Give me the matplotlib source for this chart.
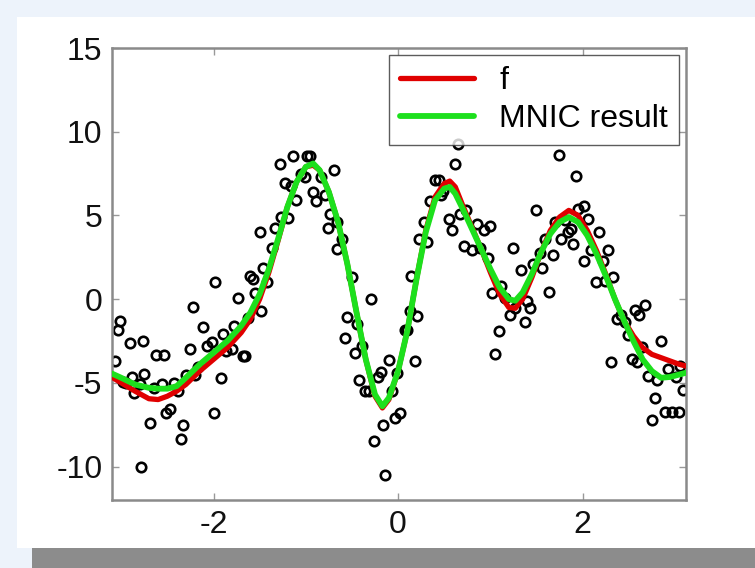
import matplotlib
matplotlib.use("Agg")
import matplotlib.pyplot as plt
from matplotlib.patches import Rectangle

plt.rcParams['font.family'] = ['Liberation Sans', 'DejaVu Sans']

# Noisy samples (x, y)
pts_x = [-3.07, -3.04, -3.01, -2.91, -2.76, -2.98, -2.95, -2.86, -2.88, -2.75, -2.80, -2.64,
         -2.69, -2.79, -2.62, -2.54, -2.56, -2.51, -2.47, -2.43, -2.39, -2.33, -2.35, -2.30,
         -2.26, -2.22, -2.20, -2.17, -2.11, -2.07, -2.02, -1.98, -2.00, -1.92, -1.90, -1.86,
         -1.80, -1.73, -1.78, -1.68, -1.66, -1.63, -1.60, -1.57, -1.55, -1.48, -1.50, -1.46,
         -1.42, -1.37, -1.33, -1.27, -1.19, -1.23, -1.16, -1.28, -1.14, -1.11, -1.05, -0.99,
         -0.95, -1.01, -0.92, -0.89, -0.84, -0.69, -0.79, -0.74, -0.66, -0.76, -0.61, -0.66,
         -0.50, -0.55, -0.45, -0.57, -0.47, -0.39, -0.42, -0.29, -0.36, -0.31, -0.26, -0.16,
         -0.22, -0.19, -0.14, -0.10, -0.07, -0.03, 0.02, -0.01, 0.07, 0.10, 0.13, 0.18,
         0.14, 0.21, 0.23, 0.28, 0.31, 0.35, 0.40, 0.44, 0.47, 0.49, 0.55, 0.58,
         0.62, 0.65, 0.67, 0.74, 0.71, 0.80, 0.86, 0.89, 0.93, 0.97, 1.00, 1.02,
         1.09, 1.05, 1.12, 1.16, 1.21, 1.25, 1.27, 1.33, 1.37, 1.40, 1.43, 1.46,
         1.49, 1.54, 1.56, 1.59, 1.64, 1.68, 1.70, 1.74, 1.77, 1.81, 1.84, 1.87,
         1.90, 1.93, 1.95, 2.01, 2.02, 2.06, 2.09, 2.15, 2.18, 2.22, 2.24, 2.28,
         2.31, 2.33, 2.37, 2.42, 2.46, 2.49, 2.53, 2.57, 2.61, 2.64, 2.68, 2.59,
         2.71, 2.75, 2.78, 2.81, 2.85, 2.89, 2.93, 2.97, 3.01, 3.04, 3.06, 3.09]
pts_y = [-3.72, -1.86, -1.28, -2.64, -2.51, -4.96, -5.00, -5.60, -4.63, -4.48, -5.10, -5.28,
         -7.40, -10.04, -3.31, -3.31, -5.06, -6.80, -6.58, -5.02, -5.50, -7.51, -8.38, -4.52,
         -2.97, -0.50, -4.52, -4.03, -1.67, -2.79, -2.58, 1.04, -6.80, -4.74, -2.08, -3.12,
         -2.97, 0.09, -1.60, -3.40, -3.38, -1.13, 1.36, 1.21, 0.39, -0.74, 3.98, 1.86,
         1.04, 3.03, 4.24, 4.89, 4.83, 6.95, 6.73, 8.07, 8.57, 5.91, 7.49, 8.53,
         8.53, 7.27, 6.41, 5.84, 7.27, 7.71, 6.19, 5.11, 4.63, 4.24, 3.60, 2.99,
         1.32, -1.06, -1.49, -2.32, -3.23, -2.79, -4.81, 0.02, -5.50, -5.50, -8.49, -7.51,
         -4.63, -4.37, -10.48, -3.66, -5.50, -7.12, -6.80, -4.42, -1.82, -1.86, -0.69, -3.72,
         1.39, -1.00, 3.60, 4.63, 3.42, 5.84, 7.14, 7.14, 6.23, 6.45, 4.78, 4.13,
         8.07, 9.26, 5.11, 5.32, 3.16, 2.94, 4.50, 3.05, 4.13, 2.47, 4.35, 0.35,
         -1.93, -3.29, 0.78, 0.09, -0.95, 3.05, -0.52, 1.75, -1.34, -0.09, -0.52, 2.08,
         5.32, 2.73, 1.86, 3.60, 0.45, 2.62, 4.63, 8.61, 3.60, 4.72, 4.03, 4.20,
         3.27, 7.38, 5.37, 2.29, 5.54, 4.78, 2.94, 1.00, 4.03, 2.29, 1.10, 2.94,
         -3.77, 1.32, -1.17, -0.95, -1.39, -2.14, -3.55, -0.63, -0.95, -2.84, -0.37, -3.77,
         -4.59, -7.23, -5.89, -4.85, -2.51, -6.75, -4.20, -6.75, -4.63, -6.75, -3.98, -5.45]

# True function f (red) and MNIC result (green), read along x
curve_x = [-3.12, -3.0, -2.85, -2.7, -2.6, -2.5, -2.4, -2.3, -2.15, -2.0, -1.85, -1.7, -1.6,
           -1.5, -1.4, -1.3, -1.2, -1.1, -1.0, -0.92, -0.85, -0.75, -0.65, -0.55, -0.45,
           -0.35, -0.25, -0.17, -0.1, 0.0, 0.1, 0.2, 0.3, 0.4, 0.5, 0.56, 0.62, 0.7,
           0.8, 0.9, 1.0, 1.1, 1.2, 1.27, 1.35, 1.45, 1.55, 1.65, 1.75, 1.85, 1.95,
           2.05, 2.15, 2.25, 2.35, 2.45, 2.55, 2.65, 2.75, 2.85, 2.95, 3.05, 3.12]
f_y = [-4.6, -5.0, -5.5, -5.95, -6.0, -5.8, -5.5, -5.1, -4.3, -3.6, -2.9, -2.0, -1.2,
       0.0, 1.6, 3.5, 5.5, 7.0, 7.9, 8.0, 7.7, 6.4, 4.6, 2.1, -0.8,
       -3.6, -5.8, -6.5, -6.0, -4.3, -1.9, 1.2, 4.1, 6.1, 6.9, 7.05, 6.7, 5.6,
       4.3, 3.0, 1.6, 0.3, -0.5, -0.55, 0.0, 1.3, 2.8, 4.1, 4.9, 5.3, 5.0,
       4.1, 2.9, 1.5, 0.0, -1.3, -2.2, -2.9, -3.3, -3.5, -3.7, -3.9, -4.0]
mnic_y = [-4.4, -4.7, -5.1, -5.3, -5.35, -5.35, -5.2, -4.7, -3.9, -3.2, -2.5, -1.6, -0.8,
          0.3, 1.8, 3.6, 5.5, 7.0, 7.9, 8.1, 7.7, 6.4, 4.6, 2.1, -0.8,
          -3.6, -5.7, -6.4, -5.9, -4.3, -1.9, 1.2, 4.0, 5.9, 6.6, 6.7, 6.3, 5.4,
          4.2, 3.0, 1.8, 0.7, 0.0, -0.1, 0.4, 1.5, 2.8, 3.9, 4.6, 4.9, 4.6,
          3.8, 2.7, 1.4, 0.0, -1.3, -2.5, -3.6, -4.3, -4.7, -4.65, -4.5, -4.4]

xticks = [-2, 0, 2]
yticks = [-10, -5, 0, 5, 10, 15]

fig = plt.figure(figsize=(7.55, 5.68), dpi=100)
fig.patch.set_facecolor('#edf3fb')
fig.add_artist(Rectangle((17 / 755, 1 - 548 / 568), 738 / 755, 531 / 568,
                         transform=fig.transFigure, facecolor='white', edgecolor='none', zorder=0))
fig.add_artist(Rectangle((32 / 755, 0), 723 / 755, 20 / 568,
                         transform=fig.transFigure, facecolor='#8c8c8c', edgecolor='none', zorder=0))

ax = fig.add_axes([112 / 755, 1 - 500 / 568, 574 / 755, 452 / 568])
ax.set_facecolor('white')

ax.plot(pts_x, pts_y, linestyle='none', marker='o', markersize=6.8, markerfacecolor='none',
        markeredgecolor='black', markeredgewidth=1.9, zorder=2)
ax.plot(curve_x, f_y, color='#e00000', linewidth=3.8, label='f', zorder=3,
        solid_joinstyle='round', solid_capstyle='round')
ax.plot(curve_x, mnic_y, color='#1de01d', linewidth=4.2, label='MNIC result', zorder=4,
        solid_joinstyle='round', solid_capstyle='round')

ax.set_xlim(-3.1, 3.12)
ax.set_ylim(-12, 15)
ax.set_xticks(xticks)
ax.set_yticks(yticks)
ax.set_xticklabels([str(t) for t in xticks])
ax.set_yticklabels([str(t) for t in yticks])
ax.tick_params(direction='in', length=5, width=1, color='#999999', labelsize=23,
               top=True, right=True, labelcolor='#111111', pad=7)
for s in ax.spines.values():
    s.set_color('#8a8a8a')
    s.set_linewidth(1.8)

leg = ax.legend(loc='upper right', bbox_to_anchor=(0.988, 0.985), borderaxespad=0,
                fontsize=23, frameon=True, fancybox=False,
                handlelength=2.3, handletextpad=0.8, borderpad=0.35, labelspacing=0.25)
leg.get_frame().set_edgecolor('#333333')
leg.get_frame().set_linewidth(1.0)

fig.savefig('out.png', dpi=100)
